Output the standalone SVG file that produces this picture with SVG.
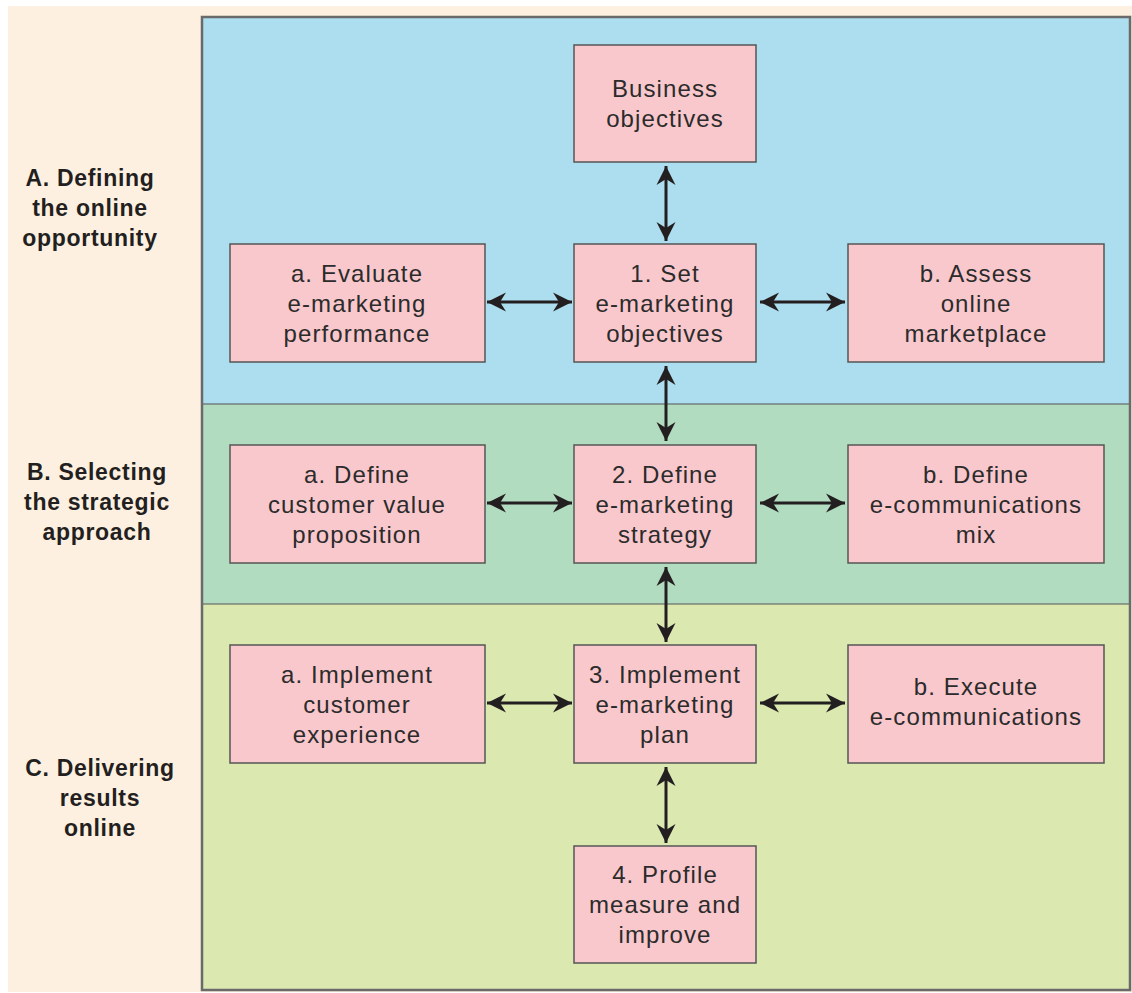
<svg xmlns="http://www.w3.org/2000/svg" width="1132" height="993" viewBox="0 0 1132 993">
  <defs>
    <marker id="head" viewBox="-20 -10 22 20" markerWidth="22" markerHeight="20" refX="0" refY="0" orient="auto-start-reverse" markerUnits="userSpaceOnUse">
      <path d="M0,0 L-19,-9.5 L-13,0 L-19,9.5 Z" fill="#231f20"/>
    </marker>
    <style>
      .box { fill: #f9c8cc; stroke: #555; stroke-width: 1.5; }
      .txt { font-family: "Liberation Sans", Arial, sans-serif; font-size: 24px; fill: #2b2b2b; text-anchor: middle; letter-spacing: 1.1px; }
      .lbl { font-family: "Liberation Sans", Arial, sans-serif; font-size: 23px; font-weight: bold; fill: #231f20; text-anchor: middle; letter-spacing: 0.7px; }
      .arr { stroke: #231f20; stroke-width: 3; fill: none; marker-start: url(#head); marker-end: url(#head); }
    </style>
  </defs>

  <!-- page background -->
  <rect x="0" y="0" width="1132" height="993" fill="#ffffff"/>
  <rect x="8" y="6" width="1124" height="986" fill="#fdf0e1"/>

  <!-- stage bands -->
  <g id="bands">
    <rect x="202" y="17" width="928" height="387" fill="#acdeef"/>
    <rect x="202" y="404" width="928" height="200" fill="#b2dcc0"/>
    <rect x="202" y="604" width="928" height="386" fill="#dbe8b0"/>
    <line x1="202" y1="404" x2="1130" y2="404" stroke="#555" stroke-width="1.2"/>
    <line x1="202" y1="604" x2="1130" y2="604" stroke="#555" stroke-width="1.2"/>
    <rect x="202" y="17" width="928" height="973" fill="none" stroke="#6a6a6a" stroke-width="2.5"/>
  </g>

  <!-- stage labels -->
  <g id="label-a">
    <text class="lbl" x="90" y="186">A. Defining</text>
    <text class="lbl" x="90" y="216">the online</text>
    <text class="lbl" x="90" y="246">opportunity</text>
  </g>
  <g id="label-b">
    <text class="lbl" x="97" y="480">B. Selecting</text>
    <text class="lbl" x="97" y="510">the strategic</text>
    <text class="lbl" x="97" y="540">approach</text>
  </g>
  <g id="label-c">
    <text class="lbl" x="100" y="776">C. Delivering</text>
    <text class="lbl" x="100" y="806">results</text>
    <text class="lbl" x="100" y="836">online</text>
  </g>

  <!-- connectors -->
  <g id="connectors">
    <line class="arr" x1="666" y1="166" x2="666" y2="241"/>
    <line class="arr" x1="666" y1="366" x2="666" y2="441"/>
    <line class="arr" x1="666" y1="567" x2="666" y2="642"/>
    <line class="arr" x1="666" y1="767" x2="666" y2="843"/>
    <line class="arr" x1="487" y1="302" x2="572" y2="302"/>
    <line class="arr" x1="760" y1="302" x2="845" y2="302"/>
    <line class="arr" x1="487" y1="503" x2="572" y2="503"/>
    <line class="arr" x1="760" y1="503" x2="845" y2="503"/>
    <line class="arr" x1="487" y1="703" x2="572" y2="703"/>
    <line class="arr" x1="760" y1="703" x2="845" y2="703"/>
  </g>

  <!-- nodes -->
  <g id="business-objectives">
    <rect class="box" x="574" y="45" width="182" height="117"/>
    <text class="txt" x="665" y="97">Business</text>
    <text class="txt" x="665" y="127">objectives</text>
  </g>
  <g id="evaluate-performance">
    <rect class="box" x="230" y="244" width="255" height="118"/>
    <text class="txt" x="357" y="282">a. Evaluate</text>
    <text class="txt" x="357" y="312">e-marketing</text>
    <text class="txt" x="357" y="342">performance</text>
  </g>
  <g id="set-objectives">
    <rect class="box" x="574" y="244" width="182" height="118"/>
    <text class="txt" x="665" y="282">1. Set</text>
    <text class="txt" x="665" y="312">e-marketing</text>
    <text class="txt" x="665" y="342">objectives</text>
  </g>
  <g id="assess-marketplace">
    <rect class="box" x="848" y="244" width="256" height="118"/>
    <text class="txt" x="976" y="282">b. Assess</text>
    <text class="txt" x="976" y="312">online</text>
    <text class="txt" x="976" y="342">marketplace</text>
  </g>
  <g id="value-proposition">
    <rect class="box" x="230" y="445" width="255" height="118"/>
    <text class="txt" x="357" y="483">a. Define</text>
    <text class="txt" x="357" y="513">customer value</text>
    <text class="txt" x="357" y="543">proposition</text>
  </g>
  <g id="define-strategy">
    <rect class="box" x="574" y="445" width="182" height="118"/>
    <text class="txt" x="665" y="483">2. Define</text>
    <text class="txt" x="665" y="513">e-marketing</text>
    <text class="txt" x="665" y="543">strategy</text>
  </g>
  <g id="communications-mix">
    <rect class="box" x="848" y="445" width="256" height="118"/>
    <text class="txt" x="976" y="483">b. Define</text>
    <text class="txt" x="976" y="513">e-communications</text>
    <text class="txt" x="976" y="543">mix</text>
  </g>
  <g id="customer-experience">
    <rect class="box" x="230" y="645" width="255" height="118"/>
    <text class="txt" x="357" y="683">a. Implement</text>
    <text class="txt" x="357" y="713">customer</text>
    <text class="txt" x="357" y="743">experience</text>
  </g>
  <g id="implement-plan">
    <rect class="box" x="574" y="645" width="182" height="118"/>
    <text class="txt" x="665" y="683">3. Implement</text>
    <text class="txt" x="665" y="713">e-marketing</text>
    <text class="txt" x="665" y="743">plan</text>
  </g>
  <g id="execute-communications">
    <rect class="box" x="848" y="645" width="256" height="118"/>
    <text class="txt" x="976" y="695">b. Execute</text>
    <text class="txt" x="976" y="725">e-communications</text>
  </g>
  <g id="profile-measure">
    <rect class="box" x="574" y="846" width="182" height="117"/>
    <text class="txt" x="665" y="883">4. Profile</text>
    <text class="txt" x="665" y="913">measure and</text>
    <text class="txt" x="665" y="943">improve</text>
  </g>
</svg>
